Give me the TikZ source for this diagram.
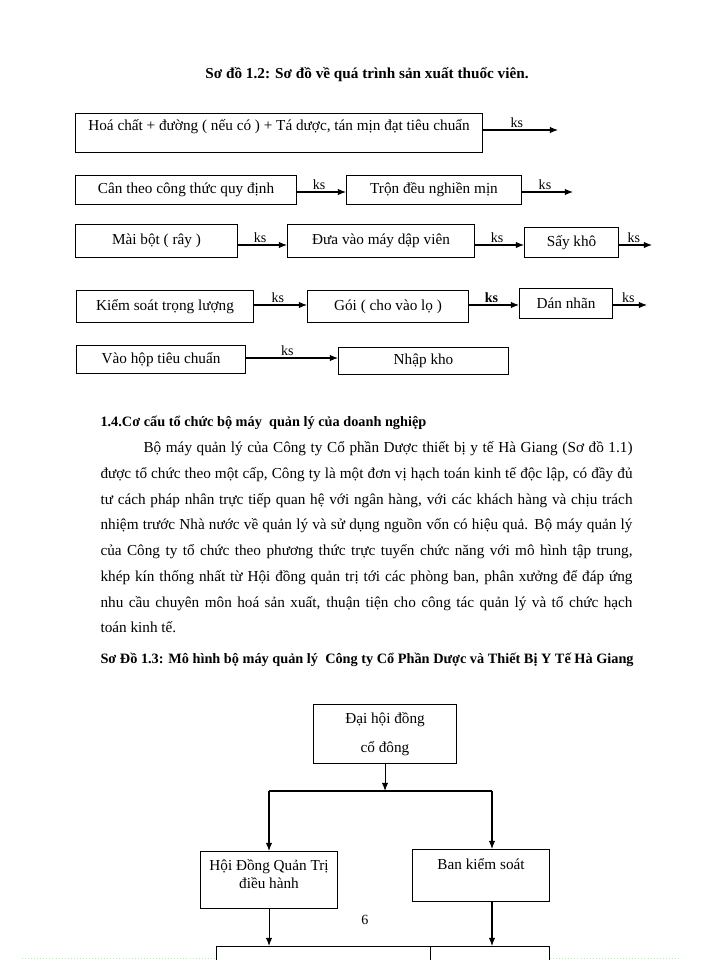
\documentclass[tikz,border=0pt]{standalone}
\usepackage{fontspec}
\setmainfont{Liberation Serif}
\usetikzlibrary{arrows.meta}
\definecolor{breakgreen}{RGB}{190,228,190}
\newcommand\justline[1]{\hbox to 15.96cm{#1}}
\tikzset{
  procbox/.style={draw=black, line width=0.9pt, inner sep=0pt, anchor=north west,
    font=\fontsize{13pt}{15.6pt}\selectfont},
  boxsize/.style 2 args={minimum width=#1*0.03cm, minimum height=#2*0.03cm},
  ks/.style={above, inner sep=1.5pt, pos=0.45, font=\fontsize{12pt}{14pt}\selectfont},
  bodyline/.style={anchor=base west, inner sep=0pt, font=\fontsize{13pt}{15.6pt}\selectfont},
  headline/.style={anchor=base west, inner sep=0pt, font=\fontsize{12.2pt}{15pt}\selectfont\bfseries},
  pagebreak/.style={breakgreen, dotted, line width=0.6pt},
}
\begin{document}
\begin{tikzpicture}[x=0.03cm, y=-0.03cm, >={Latex[length=7pt,width=5.5pt]}, line width=0.9pt, draw=black]
\path[use as bounding box, fill=white] (0,0) rectangle (700,960);

% Title of the process chart
\node[headline, anchor=base, font=\fontsize{13pt}{15.6pt}\selectfont\bfseries] (title12) at (367,79)
  {Sơ đồ 1.2: Sơ đồ về quá trình sản xuất thuốc viên.};

% Row coordinates for the ks arrows
\coordinate (r1) at (0,130);
\coordinate (r2) at (0,192);
\coordinate (r3) at (0,245);
\coordinate (r4) at (0,305);
\coordinate (r5) at (0,358);

% Row 1
\node[procbox, boxsize={407}{39}, text height=0.51cm, text depth=0.66cm] (hoachat) at (75,113)
  {Hoá chất + đường ( nếu có ) + Tá dược, tán mịn đạt tiêu chuẩn};
\coordinate (end1) at (558,130);
\draw[->] (hoachat.east |- r1) -- node[ks] {ks} (end1);

% Row 2
\node[procbox, boxsize={221}{29}] (can) at (75,175) {Cân theo công thức quy định};
\node[procbox, boxsize={175}{29}] (tron) at (346,175) {Trộn đều nghiền mịn};
\coordinate (end2) at (573,192);
\draw[->] (can.east |- r2) -- node[ks] {ks} (tron.west |- r2);
\draw[->] (tron.east |- r2) -- node[ks] {ks} (end2);

% Row 3
\node[procbox, boxsize={162}{33}] (maibot) at (75,224) {Mài bột ( rây )};
\node[procbox, boxsize={187}{33}] (duavao) at (287,224) {Đưa vào máy dập viên};
\node[procbox, boxsize={94}{30}] (saykho) at (524,227) {Sấy khô};
\coordinate (end3) at (652,245);
\draw[->] (maibot.east |- r3) -- node[ks] {ks} (duavao.west |- r3);
\draw[->] (duavao.east |- r3) -- node[ks] {ks} (saykho.west |- r3);
\draw[->] (saykho.east |- r3) -- node[ks] {ks} (end3);

% Row 4
\node[procbox, boxsize={177}{32}] (kiemsoat) at (76,290) {Kiểm soát trọng lượng};
\node[procbox, boxsize={161}{32}] (goi) at (307,290) {Gói ( cho vào lọ )};
\node[procbox, boxsize={93}{30}] (dannhan) at (519,288) {Dán nhãn};
\coordinate (end4) at (647,305);
\draw[->] (kiemsoat.east |- r4) -- node[ks] {ks} (goi.west |- r4);
\draw[->] (goi.east |- r4) -- node[ks, font=\fontsize{12pt}{14pt}\selectfont\bfseries] {ks} (dannhan.west |- r4);
\draw[->] (dannhan.east |- r4) -- node[ks] {ks} (end4);

% Row 5
\node[procbox, boxsize={169}{28}] (vaohop) at (76,345) {Vào hộp tiêu chuẩn};
\node[procbox, boxsize={170}{27}] (nhapkho) at (338,347) {Nhập kho};
\draw[->] (vaohop.east |- r5) -- node[ks] {ks} (nhapkho.west |- r5);

% Section text
\node[headline] (muc14) at (100,426) {1.4.Cơ cấu tổ chức bộ máy \ quản lý của doanh nghiệp};
\node[bodyline] (line1) at (100,452) {\justline{\hspace*{1.29cm}Bộ máy quản lý của Công ty Cổ phần Dược thiết bị y tế Hà Giang (Sơ đồ 1.1)}};
\node[bodyline] (line2) at (100,478) {\justline{được tổ chức theo một cấp, Công ty là một đơn vị hạch toán kinh tế độc lập, có đầy đủ}};
\node[bodyline] (line3) at (100,504) {\justline{tư cách pháp nhân trực tiếp quan hệ với ngân hàng, với các khách hàng và chịu trách}};
\node[bodyline] (line4) at (100,529) {\justline{nhiệm trước Nhà nước về quản lý và sử dụng nguồn vốn có hiệu quả. Bộ máy quản lý}};
\node[bodyline] (line5) at (100,555) {\justline{của Công ty tổ chức theo phương thức trực tuyến chức năng với mô hình tập trung,}};
\node[bodyline] (line6) at (100,581) {\justline{khép kín thống nhất từ Hội đồng quản trị tới các phòng ban, phân xưởng để đáp ứng}};
\node[bodyline] (line7) at (100,607) {\justline{nhu cầu chuyên môn hoá sản xuất, thuận tiện cho công tác quản lý và tổ chức hạch}};
\node[bodyline] (line8) at (100,632) {toán kinh tế.};
\node[headline] (title13) at (100,663) {Sơ Đồ 1.3: Mô hình bộ máy quản lý \ Công ty Cổ Phần Dược và Thiết Bị Y Tế Hà Giang};

% Org chart
\node[procbox, boxsize={143}{59}, align=center] (daihoi) at (313,704) {Đại hội đồng\\[9pt]cổ đông};
\node[procbox, boxsize={137}{57}, text height=0.57cm, text depth=1.14cm] (hdqt) at (200,851)
  {\begin{tabular}[t]{@{}c@{}}Hội Đồng Quản Trị\\điều hành\end{tabular}};
\node[procbox, boxsize={137}{52}, text height=0.6cm, text depth=0.96cm] (bks) at (412,849) {Ban kiểm soát};
\node[procbox, boxsize={214}{40}] (phong1) at (216,946) {};
\node[procbox, boxsize={119}{40}] (phong2) at (430,946) {};
\coordinate (forkL) at (269,791);
\coordinate (forkR) at (492,791);
\draw[->] (daihoi.south) -- (daihoi.south |- forkL);
\draw (forkL) -- (forkR);
\draw[->] (forkL) -- (forkL |- hdqt.north);
\draw[->] (forkR) -- (forkR |- bks.north);
\draw[->] (hdqt.south) -- (hdqt.south |- phong1.north);
\draw[->] (forkR |- bks.south) -- (forkR |- phong2.north);

% Page number and page break
\node[font=\fontsize{12pt}{14pt}\selectfont] (trang) at (365,920) {6};
\coordinate (pb1) at (22,958);
\coordinate (pb2) at (680,958);
\draw[pagebreak] (pb1) -- (pb1 -| phong1.west);
\draw[pagebreak] (phong2.east |- pb2) -- (pb2);
\end{tikzpicture}
\end{document}
